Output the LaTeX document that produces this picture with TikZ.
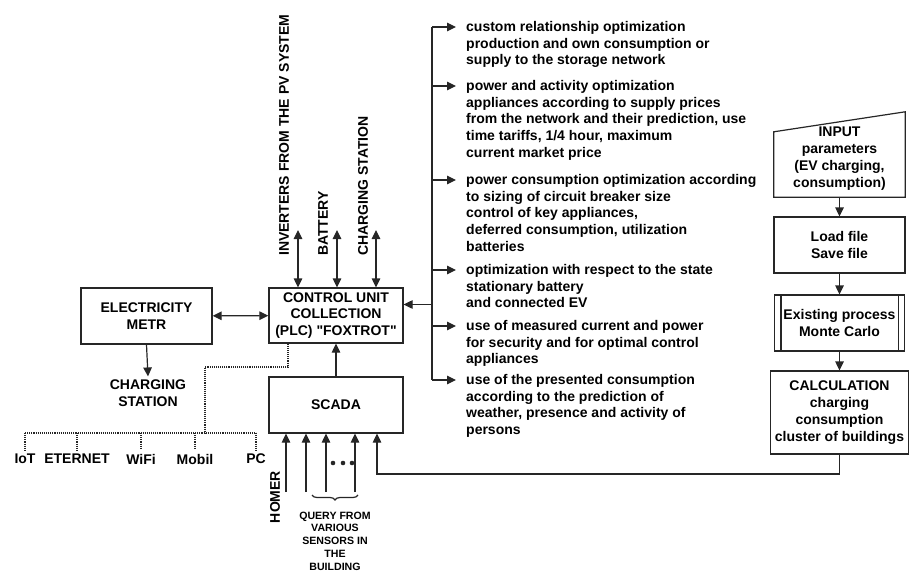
\documentclass[tikz,border=0pt]{standalone}
\usepackage{fontspec}
\setmainfont{Liberation Sans}
\usetikzlibrary{arrows.meta,decorations.pathreplacing}
\tikzset{
  txt/.style={font=\bfseries\fontsize{14}{16.8}\selectfont, inner sep=0pt},
  box/.style={txt, draw=black!85, line width=1.2pt, align=center},
  wire/.style={draw=black!85, line width=1.2pt},
  arr/.style={wire, -{Triangle[length=9pt,width=8.5pt]}},
  biarr/.style={wire, {Triangle[length=9pt,width=8.5pt]}-{Triangle[length=9pt,width=8.5pt]}},
  net/.style={draw=black!85, line width=1.1pt, densely dotted},
  item/.style={txt, align=left, anchor=north west},
}

\begin{document}
\begin{tikzpicture}[x=1pt,y=-1pt]
			%%%%% START %%%%%
			\useasboundingbox (0,0) rectangle (913,575);
			
			\node[box, minimum width=134pt, minimum height=55pt] (cu) at (336,315.5) {CONTROL UNIT\\COLLECTION\\(PLC) \textquotedbl FOXTROT\textquotedbl};
			\node[box, minimum width=131pt, minimum height=56pt] (em) at (146.5,316) {ELECTRICITY\\METR};
			\node[txt, align=center, inner sep=3pt] (cs) at (148,393) {CHARGING\\STATION};
			\node[box, minimum width=134pt, minimum height=56pt] (scada) at (336,405) {SCADA};
			
			\draw[biarr] (em) -- (cu);
			\draw[arr] (em.south) -- (cs.north);
			\draw[arr] (scada.north) -- (cu.south);
			
			\node[txt, rotate=90, anchor=west] (pvlbl) at (284,256) {INVERTERS FROM THE PV SYSTEM};
			\node[txt, rotate=90, anchor=west] (batlbl) at (323,256) {BATTERY};
			\node[txt, rotate=90, anchor=west] (chlbl) at (363,256) {CHARGING STATION};
			\coordinate (pvend) at (298,230);
			\coordinate (batend) at (337,230);
			\coordinate (chend) at (376,230);
			\draw[biarr] (pvend) -- (pvend |- cu.north);
			\draw[biarr] (batend) -- (batend |- cu.north);
			\draw[biarr] (chend) -- (chend |- cu.north);
			
			% communication
			\node[txt] (iot) at (25,459) {IoT};
			\node[txt] (eth) at (77,459) {ETERNET};
			\node[txt] (wifi) at (141,459) {WiFi};
			\node[txt] (mob) at (195,459) {Mobil};
			\node[txt] (pc) at (256,459) {PC};
			\coordinate (netknee) at (205,367);
			\coordinate (nethub) at (205,433);
			\draw[net] ([xshift=-48pt]cu.south) |- (netknee) -- (nethub);
			\draw[net] (iot.north |- nethub) -- (pc.north |- nethub);
			\foreach \n in {iot,eth,wifi,mob,pc}
				\draw[net] (\n.north |- nethub) -- ([yshift=4pt]\n.north);
			
			% inputs of SCADA
			\coordinate (homer) at (286,492);
			\coordinate (sa) at (306,492);
			\coordinate (sb) at (326,492);
			\coordinate (sc) at (355,492);
			\foreach \c in {homer,sa,sb,sc}
				\draw[arr] (\c) -- (\c |- scada.south);
			\node[txt, rotate=90] (homerlbl) at (275,497) {HOMER};
			\foreach \x in {333,343,352}
				\fill[black!85] (\x,463) circle (2.3pt);
			\draw[wire, decorate, decoration={brace, amplitude=5pt}] (358,495) -- (312,495);
			\node[txt, align=center, font=\bfseries\fontsize{10.6}{12.7}\selectfont] (qry) at (335,541) {QUERY FROM\\VARIOUS\\SENSORS IN\\THE\\BUILDING};
			
			% optimization targets
			\node[item] (opt1) at (466,21) {custom relationship optimization\\production and own consumption or\\supply to the storage network};
			\node[item] (opt2) at (466,80) {power and activity optimization\\appliances according to supply prices\\from the network and their prediction, use\\time tariffs, 1/4 hour, maximum\\current market price};
			\node[item] (opt3) at (466,174) {power consumption optimization according\\to sizing of circuit breaker size\\control of key appliances,\\deferred consumption, utilization\\batteries};
			\node[item] (opt4) at (466,264) {optimization with respect to the state\\stationary battery\\and connected EV};
			\node[item] (opt5) at (466,320) {use of measured current and power\\for security and for optimal control\\appliances};
			\node[item] (opt6) at (466,374) {use of the presented consumption\\according to the prediction of\\weather, presence and activity of\\persons};
			\coordinate (bustop) at (432,27);
			\coordinate (busbot) at (432,380);
			\draw[wire] (bustop) -- (busbot);
			\foreach \n in {opt1,opt2,opt3,opt4,opt5,opt6}
				\draw[arr] ([yshift=-6pt]\n.north west -| bustop) -- ([xshift=-10pt,yshift=-6pt]\n.north west);
			\draw[arr] ([yshift=11pt]cu.east -| bustop) -- ([yshift=11pt]cu.east);
			
			% simulation
			\node[txt, align=center, minimum width=131pt, minimum height=85pt] (inp) at (839.5,158.5) {INPUT\\parameters\\(EV charging,\\consumption)};
			\draw[wire] ([yshift=-16pt]inp.north west) -- ([yshift=4pt]inp.north east) -- ([yshift=4pt]inp.south east) -- ([yshift=4pt]inp.south west) -- cycle;
			\node[box, minimum width=131pt, minimum height=56pt] (load) at (839.5,245) {Load file\\Save file};
			\node[box, minimum width=130pt, minimum height=56pt] (mc) at (839.5,323) {Existing process\\Monte Carlo};
			\draw[wire] ([xshift=7pt]mc.north west) -- ([xshift=7pt]mc.south west);
			\draw[wire] ([xshift=-7pt]mc.north east) -- ([xshift=-7pt]mc.south east);
			\node[box, minimum width=138pt, minimum height=83pt] (calc) at (839.5,412.5) {CALCULATION\\charging\\consumption\\cluster of buildings};
			\draw[arr] ([yshift=4pt]inp.south) -- (load.north);
			\draw[arr] (load.south) -- (mc.north);
			\draw[arr] (mc.south) -- (calc.north);
			\coordinate (fb) at (377,474);
			\draw[arr] (calc.south) |- (fb) -- (fb |- scada.south);
			
			%%%%% END %%%%%
\end{tikzpicture}
\end{document}
